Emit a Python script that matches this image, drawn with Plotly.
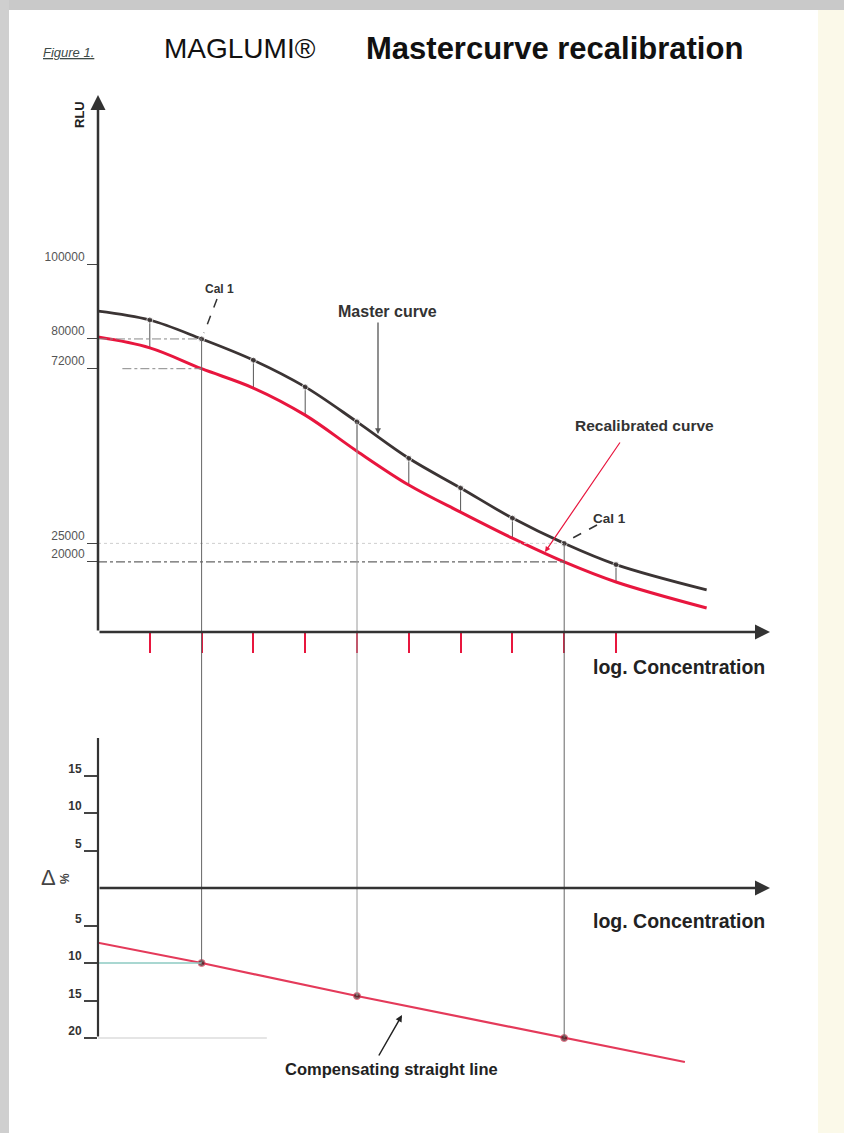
import plotly.graph_objects as go

# ---------------- data ----------------
conc = [0, 1, 2, 3, 4, 5, 6, 7, 8, 9, 10, 11.75]
master_rlu = [87500, 85100, 80000, 74300, 67100, 57700, 47900, 39900, 31800, 25000, 19300, 12500]
recal_rlu = [80500, 77600, 72000, 66800, 59500, 49800, 40700, 33400, 26400, 20000, 14600, 7600]
conc_ticks = [1, 2, 3, 4, 5, 6, 7, 8, 9, 10]
rlu_ticks = [100000, 80000, 72000, 25000, 20000]
rlu_tick_text = ["100000", "80000", "72000", "25000", "20000"]

comp_conc = [0, 2, 5, 9, 11.33]
comp_delta = [-7.3, -10, -14.4, -20, -23.2]
delta_ticks = [15, 10, 5, -5, -10, -15, -20]
delta_tick_text = ["15", "10", "5", "5", "10", "15", "20"]

cal_conc = [2, 9]          # "Cal 1" points
linked_conc = [2, 5, 9]    # vertical links to the delta plot

# ---------------- layout geometry ----------------
FIG_W, FIG_H = 844, 1133
L, R, T, B = 98, 770, 95, 1070
X_RANGE = [0, (R - L) / 51.8]
TOP_DOM = [(B - 632) / (B - T), 1.0]
BOT_DOM = [0.0, (B - 738) / (B - T)]
Y_RANGE = [1160, 145630]
D_RANGE = [-(B - 888) / 7.5, (888 - 738) / 7.5]

FONT = "Liberation Sans, Arial, sans-serif"
DARK = "#3b3434"
RED = "#e8163e"


def px_x(px):
    return (px - L) / (R - L)


def px_y(py):
    return (B - py) / (B - T)


def rlu_paper(v):
    return TOP_DOM[0] + (v - Y_RANGE[0]) / (Y_RANGE[1] - Y_RANGE[0]) * (TOP_DOM[1] - TOP_DOM[0])


def delta_paper(v):
    return BOT_DOM[0] + (v - D_RANGE[0]) / (D_RANGE[1] - D_RANGE[0]) * (BOT_DOM[1] - BOT_DOM[0])


fig = go.Figure()

# connectors between master and recalibrated points
cx, cy = [], []
for c, m, r in zip(conc, master_rlu, recal_rlu):
    if c in conc_ticks and c not in cal_conc:
        cx += [c, c, None]
        cy += [m, r, None]
fig.add_trace(go.Scatter(x=cx, y=cy, mode="lines", line=dict(color="#555", width=1),
                         xaxis="x", yaxis="y", hoverinfo="skip"))

fig.add_trace(go.Scatter(
    x=conc, y=master_rlu, mode="lines+markers", name="Master curve",
    line=dict(color=DARK, width=2.8, shape="spline"),
    marker=dict(size=[6 if c in conc_ticks else 0 for c in conc], color=DARK),
    xaxis="x", yaxis="y"))
fig.add_trace(go.Scatter(
    x=conc, y=recal_rlu, mode="lines", name="Recalibrated curve",
    line=dict(color=RED, width=3, shape="spline"),
    xaxis="x", yaxis="y"))

fig.add_trace(go.Scatter(
    x=comp_conc, y=comp_delta, mode="lines+markers", name="Compensating straight line",
    line=dict(color="#e43a5a", width=2.2),
    marker=dict(size=[0] + [7] * (len(comp_conc) - 2) + [0], color="#3a1a1a"),
    xaxis="x2", yaxis="y2"))

shapes = []
# page border look
shapes.append(dict(type="rect", xref="paper", yref="paper", x0=px_x(0), x1=px_x(FIG_W),
                   y0=px_y(10), y1=px_y(0), fillcolor="#c9c9c9", line_width=0, layer="below"))
shapes.append(dict(type="rect", xref="paper", yref="paper", x0=px_x(0), x1=px_x(9),
                   y0=px_y(FIG_H), y1=px_y(0), fillcolor="#cfcfcf", line_width=0, layer="below"))
shapes.append(dict(type="rect", xref="paper", yref="paper", x0=px_x(818), x1=px_x(FIG_W),
                   y0=px_y(FIG_H), y1=px_y(10), fillcolor="#fbf9e9", line_width=0, layer="below"))

# reference lines in the RLU plot
shapes.append(dict(type="line", xref="x", yref="y", x0=0, x1=cal_conc[0], y0=rlu_ticks[1], y1=rlu_ticks[1],
                   line=dict(color="#888", width=1, dash="dashdot")))
shapes.append(dict(type="line", xref="x", yref="y", x0=0.47, x1=cal_conc[0], y0=rlu_ticks[2], y1=rlu_ticks[2],
                   line=dict(color="#888", width=1, dash="dashdot")))
shapes.append(dict(type="line", xref="x", yref="y", x0=0, x1=cal_conc[1], y0=rlu_ticks[3], y1=rlu_ticks[3],
                   line=dict(color="#cfcfcf", width=1, dash="dot")))
shapes.append(dict(type="line", xref="x", yref="y", x0=0, x1=cal_conc[1], y0=rlu_ticks[4], y1=rlu_ticks[4],
                   line=dict(color="#666", width=1.2, dash="dashdot")))

# vertical links from master curve to delta plot
for c in linked_conc:
    m = master_rlu[conc.index(c)]
    d = comp_delta[comp_conc.index(c)]
    shapes.append(dict(type="line", xref="x", yref="paper", x0=c, x1=c,
                       y0=delta_paper(d), y1=rlu_paper(m),
                       line=dict(color="#666" if c in cal_conc else "#9a9a9a", width=1)))

# reference lines in delta plot
shapes.append(dict(type="line", xref="x2", yref="y2", x0=0, x1=comp_conc[1], y0=comp_delta[1], y1=comp_delta[1],
                   line=dict(color="#8ccac2", width=1.5)))
shapes.append(dict(type="line", xref="x2", yref="y2", x0=0, x1=3.26, y0=delta_ticks[-1], y1=delta_ticks[-1],
                   line=dict(color="#cccccc", width=1.2)))

# dashed Cal 1 pointers
shapes.append(dict(type="line", xref="paper", yref="paper", x0=px_x(217), y0=px_y(299), x1=px_x(204), y1=px_y(333),
                   line=dict(color="#333", width=1.5, dash="dash")))
shapes.append(dict(type="line", xref="paper", yref="paper", x0=px_x(597), y0=px_y(525), x1=px_x(569), y1=px_y(540),
                   line=dict(color="#333", width=1.5, dash="dash")))

ann = []
# axes with arrows
ann.append(dict(x=0, y=Y_RANGE[1], xref="x", yref="y", ax=0, ay=Y_RANGE[0], axref="x", ayref="y",
                text="", showarrow=True, arrowhead=2, arrowsize=1.2, arrowwidth=2.5, arrowcolor="#333"))
ann.append(dict(x=X_RANGE[1], y=Y_RANGE[0], xref="x", yref="y", ax=0, ay=Y_RANGE[0], axref="x", ayref="y",
                text="", showarrow=True, arrowhead=2, arrowsize=1.2, arrowwidth=2.5, arrowcolor="#333"))
ann.append(dict(x=X_RANGE[1], y=0, xref="x2", yref="y2", ax=0, ay=0, axref="x2", ayref="y2",
                text="", showarrow=True, arrowhead=2, arrowsize=1.2, arrowwidth=2.5, arrowcolor="#333"))
ann.append(dict(x=0, y=D_RANGE[1], xref="x2", yref="y2", ax=0, ay=delta_ticks[-1], axref="x2", ayref="y2",
                text="", showarrow=True, arrowhead=0, arrowwidth=2.2, arrowcolor="#333"))


def label(text, cx, cy, size, bold=False, color="#222", angle=0):
    t = f"<b>{text}</b>" if bold else text
    ann.append(dict(x=px_x(cx), y=px_y(cy), xref="paper", yref="paper", text=t, showarrow=False,
                    xanchor="center", yanchor="middle", textangle=angle,
                    font=dict(family=FONT, size=size, color=color)))


def pointer(tip, tail, color, width, head=2, size=0.9):
    ann.append(dict(x=px_x(tip[0]), y=px_y(tip[1]), xref="paper", yref="paper", text="",
                    showarrow=True, ax=tail[0] - tip[0], ay=tail[1] - tip[1],
                    arrowhead=head, arrowsize=size, arrowwidth=width, arrowcolor=color))


label("<i><u>Figure 1.</u></i>", 68, 52, 13, color="#3c4a48")
label("MAGLUMI®", 240, 48, 28, color="#111")
label("Mastercurve recalibration", 554, 48, 31, bold=True, color="#111")
label("RLU", 79, 115, 13, bold=True, angle=-90)
label("log. Concentration", 679, 667, 19.5, bold=True)
label("log. Concentration", 679, 921, 19.5, bold=True)
label("Cal 1", 219, 289, 12, bold=True, color="#333")
label("Master curve", 387, 311, 16, bold=True, color="#333")
label("Recalibrated curve", 644, 425, 15.5, bold=True, color="#333")
label("Cal 1", 609, 518, 13.5, bold=True, color="#333")
label("Compensating straight line", 391, 1069, 16.5, bold=True, color="#222")
label("Δ", 48, 877, 22, color="#444")
label("%", 65, 879, 12, bold=True, color="#444", angle=-90)

pointer((378, 434), (378, 321), "#555", 1.3)
pointer((545, 552), (621, 441), RED, 1.2)
pointer((402, 1015), (378, 1057), "#222", 1.5)

fig.update_layout(
    width=FIG_W, height=FIG_H,
    margin=dict(l=L, r=FIG_W - R, t=T, b=FIG_H - B),
    paper_bgcolor="white", plot_bgcolor="rgba(0,0,0,0)",
    showlegend=False,
    font=dict(family=FONT),
    xaxis=dict(domain=[0, 1], range=X_RANGE, anchor="y", showgrid=False, zeroline=False, showline=False,
               tickvals=conc_ticks, ticks="outside", ticklen=20, tickwidth=2, tickcolor=RED,
               showticklabels=False),
    yaxis=dict(domain=TOP_DOM, range=Y_RANGE, anchor="x", showgrid=False, zeroline=False, showline=False,
               tickvals=rlu_ticks, ticktext=rlu_tick_text, ticks="outside", ticklen=10, tickwidth=1.2,
               tickcolor="#444", ticklabelshift=-8, tickfont=dict(size=12, color="#555", family=FONT)),
    xaxis2=dict(domain=[0, 1], range=X_RANGE, anchor="y2", matches="x", showgrid=False, zeroline=False,
                showline=False, showticklabels=False, ticks=""),
    yaxis2=dict(domain=BOT_DOM, range=D_RANGE, anchor="x2", showgrid=False, zeroline=False, showline=False,
                tickvals=delta_ticks, ticktext=delta_tick_text, ticks="outside", ticklen=13, tickwidth=1.5,
                tickcolor="#444", ticklabelshift=-7, tickfont=dict(size=12, color="#333", family=FONT, weight="bold")),
    shapes=shapes,
    annotations=ann,
)

fig.write_html("out.html", config={"displayModeBar": False},
               post_script="document.body.style.margin='0';")
